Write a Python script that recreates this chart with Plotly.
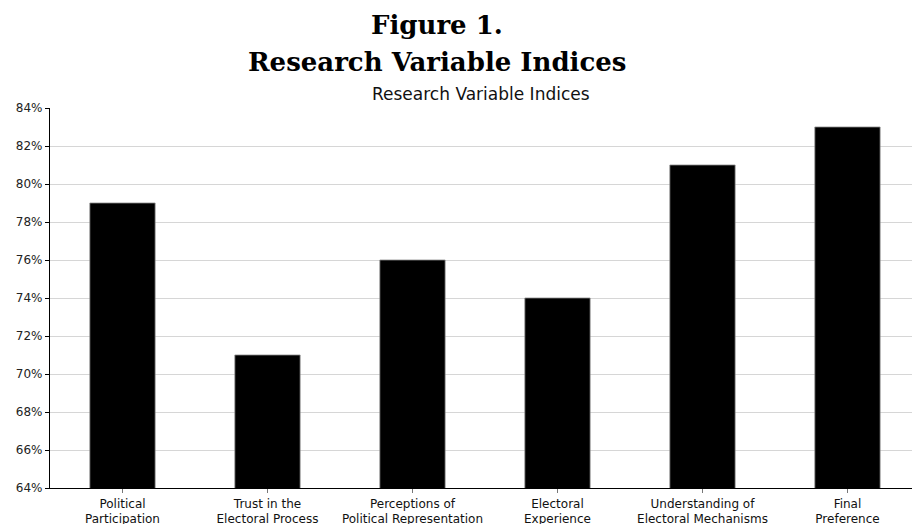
import plotly.graph_objects as go

categories = [
    "Political<br>Participation",
    "Trust in the<br>Electoral Process",
    "Perceptions of<br>Political Representation",
    "Electoral<br>Experience",
    "Understanding of<br>Electoral Mechanisms",
    "Final<br>Preference",
]
values = [79, 71, 76, 74, 81, 83]
y_ticks = [64, 66, 68, 70, 72, 74, 76, 78, 80, 82, 84]
y_tick_labels = [f"{v}%" for v in y_ticks]

fig = go.Figure(
    go.Bar(
        x=list(range(len(categories))),
        y=values,
        width=0.45,
        marker=dict(color="black", line=dict(color="#888888", width=0.8)),
    )
)

fig.update_layout(
    width=912,
    height=524,
    margin=dict(l=50, r=0, t=108, b=36),
    plot_bgcolor="white",
    paper_bgcolor="white",
    showlegend=False,
    font=dict(family="DejaVu Sans", color="#222222"),
    annotations=[
        dict(
            text="<b>Figure 1.</b>",
            xref="paper", yref="paper", x=0.449, y=1.0, yshift=83,
            xanchor="center", yanchor="middle", showarrow=False,
            font=dict(family="DejaVu Serif", size=26, color="black"),
        ),
        dict(
            text="<b>Research Variable Indices</b>",
            xref="paper", yref="paper", x=0.449, y=1.0, yshift=46,
            xanchor="center", yanchor="middle", showarrow=False,
            font=dict(family="DejaVu Serif", size=26, color="black"),
        ),
        dict(
            text="Research Variable Indices",
            xref="paper", yref="paper", x=0.5, y=1.0, yshift=14,
            xanchor="center", yanchor="middle", showarrow=False,
            font=dict(family="DejaVu Sans", size=17, color="#111111"),
        ),
    ],
)

fig.update_xaxes(
    range=[-0.5, 5.445],
    automargin=False,
    tickmode="array",
    tickvals=list(range(len(categories))),
    ticktext=categories,
    tickfont=dict(size=12, color="#111111"),
    showline=True, linecolor="black", linewidth=1.2,
    ticks="outside", ticklen=4, tickcolor="#777777",
    showgrid=False, zeroline=False,
)
fig.update_yaxes(
    range=[64, 84],
    automargin=False,
    tickmode="array",
    tickvals=y_ticks,
    ticktext=y_tick_labels,
    tickfont=dict(size=12, color="#222222"),
    showline=True, linecolor="black", linewidth=1.2,
    ticks="outside", ticklen=4, tickcolor="black",
    showgrid=True, gridcolor="#d6d6d6", gridwidth=1,
    zeroline=False,
)

fig.write_html(
    "out.html",
    config={"displayModeBar": False},
    post_script="document.body.style.margin='0';document.body.style.overflow='hidden';",
)
